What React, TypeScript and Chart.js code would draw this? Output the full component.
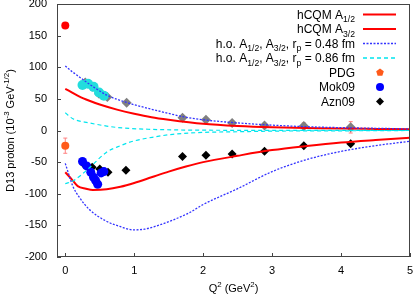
import React, { useEffect, useRef } from "react";
import { Chart, registerables } from "chart.js";
Chart.register(...registerables);

const FONT = '"Liberation Sans", Arial, Helvetica, sans-serif';

// ---- data ----
const xTicks = [0, 1, 2, 3, 4, 5];
const yTicks = [-200, -150, -100, -50, 0, 50, 100, 150, 200];

const hcqmA32X = [0, 0.1, 0.2, 0.35, 0.5, 0.75, 1.0, 1.25, 1.5, 2.0, 2.5, 3.0, 3.5, 4.0, 4.5, 5.0];
const hcqmA32Y = [66, 60, 54, 47, 41, 33, 26.5, 21, 17, 10.5, 7, 5, 4, 3, 2.5, 2];
const hcqmA12X = [0, 0.1, 0.18, 0.3, 0.4, 0.6, 0.8, 1.0, 1.25, 1.5, 1.75, 2.0, 2.5, 3.0, 3.5, 4.0, 4.5, 5.0];
const hcqmA12Y = [-66, -78, -88, -92, -94, -93, -89, -83, -74, -65, -57, -50, -40, -31, -24.5, -19, -15, -11.5];

const ho48PosX = [0, 0.1, 0.2, 0.3, 0.45, 0.6, 0.9, 1.2, 1.5, 1.7, 2.0, 2.5, 3.0, 3.5, 4.0, 4.5, 5.0];
const ho48PosY = [102, 93, 85, 77, 66, 56, 44, 35, 27, 22, 17, 12, 8.5, 6, 4.5, 3.5, 2.5];
const ho48NegX = [0, 0.11, 0.2, 0.35, 0.59, 0.8, 0.98, 1.15, 1.32, 1.55, 1.8, 2.0, 2.5, 3.0, 3.5, 4.0, 4.5, 5.0];
const ho48NegY = [-52, -88, -105, -125, -143, -152, -157, -156, -151, -142, -130, -117, -92, -65, -46, -33, -24, -17];

const ho86PosX = [0, 0.11, 0.35, 0.6, 0.83, 1.2, 1.56, 2.0, 3.0, 5.0];
const ho86PosY = [28, 18.5, 12, 7, 4, 2, 1, 0.5, 0.2, 0];
const ho86NegX = [0, 0.11, 0.2, 0.35, 0.59, 0.8, 0.98, 1.3, 1.56, 2.0, 2.5, 3.0, 4.0, 5.0];
const ho86NegY = [-84, -80, -73, -59, -35, -24, -17, -10, -6, -3, -2, -1, -0.5, 0];

const pdgX = [0, 0];
const pdgY = [166, -24];
const pdgErr = [3, 12];

const mokA32X = [0.25, 0.33, 0.41, 0.49, 0.56];
const mokA32Y = [72, 74, 69, 60, 55];
const mokA12X = [0.25, 0.31, 0.37, 0.41, 0.44, 0.47, 0.52, 0.56];
const mokA12Y = [-49, -56, -66, -74, -79, -85, -67, -65];

const aznA32X = [0.29, 0.39, 0.49, 0.61, 0.89, 1.7, 2.04, 2.42, 2.89, 3.46, 4.14];
const aznA32Y = [76, 69, 58, 53, 44, 20, 17, 12, 8, 7, 5];
const aznA32Err = [2, 2, 2, 2, 2, 2, 2, 2, 3, 5, 9];
const aznA12X = [0.28, 0.39, 0.5, 0.62, 0.88, 1.7, 2.04, 2.42, 2.89, 3.46, 4.14];
const aznA12Y = [-54, -58, -61, -66, -63, -41, -39, -37, -33, -24, -21];

const zip = (xs: number[], ys: number[]) => xs.map((x, i) => ({ x, y: ys[i] }));

type Seg = [string, number]; // 0 normal, 1 sup, -1 sub

function setFont(ctx: CanvasRenderingContext2D, size: number) {
  ctx.font = `${size}px ${FONT}`;
}
function richWidth(ctx: CanvasRenderingContext2D, segs: Seg[], size: number) {
  let w = 0;
  for (const [t, k] of segs) {
    setFont(ctx, k === 0 ? size : size * 0.72);
    w += ctx.measureText(t).width;
  }
  return w;
}
function drawRich(ctx: CanvasRenderingContext2D, segs: Seg[], x: number, y: number, size: number, align: "left" | "right" | "center") {
  const w = richWidth(ctx, segs, size);
  let cx = align === "left" ? x : align === "right" ? x - w : x - w / 2;
  ctx.textAlign = "left";
  ctx.textBaseline = "alphabetic";
  for (const [t, k] of segs) {
    const s = k === 0 ? size : size * 0.72;
    setFont(ctx, s);
    const dy = k === 1 ? -size * 0.42 : k === -1 ? size * 0.3 : 0;
    ctx.fillText(t, cx, y + dy);
    cx += ctx.measureText(t).width;
  }
}

const RED = "#ff0000";
const BLUE_DOT = "#3333ff";
const CYAN = "#00e5ee";

const legendItems: { segs: Seg[]; kind: string; color: string; dash?: number[] }[] = [
  { segs: [["hCQM A", 0], ["1/2", -1]], kind: "line", color: RED },
  { segs: [["hCQM A", 0], ["3/2", -1]], kind: "line", color: RED },
  { segs: [["h.o. A", 0], ["1/2", -1], [", A", 0], ["3/2", -1], [", r", 0], ["p", -1], [" = 0.48 fm", 0]], kind: "line", color: BLUE_DOT, dash: [2, 1.5] },
  { segs: [["h.o. A", 0], ["1/2", -1], [", A", 0], ["3/2", -1], [", r", 0], ["p", -1], [" = 0.86 fm", 0]], kind: "line", color: CYAN, dash: [4, 3] },
  { segs: [["PDG", 0]], kind: "pdg", color: "#ff5a1a" },
  { segs: [["Mok09", 0]], kind: "circle", color: "#0000ff" },
  { segs: [["Azn09", 0]], kind: "diamond", color: "#000000" },
];

const decorPlugin = {
  id: "decor",
  beforeDatasetsDraw(chart: any) {
    const ctx = chart.ctx as CanvasRenderingContext2D;
    const xs = chart.scales.x, ys = chart.scales.y;
    ctx.save();
    ctx.strokeStyle = "#ff8080";
    ctx.lineWidth = 1;
    const bars = (X: number[], Y: number[], E: number[]) => {
      X.forEach((x, i) => {
        const px = xs.getPixelForValue(x);
        const y1 = ys.getPixelForValue(Y[i] + E[i]);
        const y2 = ys.getPixelForValue(Y[i] - E[i]);
        ctx.beginPath();
        ctx.moveTo(px, y1); ctx.lineTo(px, y2);
        ctx.moveTo(px - 2, y1); ctx.lineTo(px + 2, y1);
        ctx.moveTo(px - 2, y2); ctx.lineTo(px + 2, y2);
        ctx.stroke();
      });
    };
    bars(pdgX, pdgY, pdgErr);
    bars(aznA32X, aznA32Y, aznA32Err);
    ctx.restore();
  },
  afterDraw(chart: any) {
    const ctx = chart.ctx as CanvasRenderingContext2D;
    const a = chart.chartArea;
    const xs = chart.scales.x, ys = chart.scales.y;
    ctx.save();
    // frame
    ctx.strokeStyle = "#444444";
    ctx.lineWidth = 1;
    ctx.strokeRect(Math.round(a.left) + 0.5, Math.round(a.top) + 0.5, Math.round(a.right - a.left) - 1, Math.round(a.bottom - a.top) - 1);
    // inward ticks
    ctx.beginPath();
    xTicks.forEach((v) => {
      const px = Math.round(xs.getPixelForValue(v)) + 0.5;
      ctx.moveTo(px, a.bottom); ctx.lineTo(px, a.bottom - 4);
    });
    yTicks.forEach((v) => {
      const py = Math.round(ys.getPixelForValue(v)) + 0.5;
      ctx.moveTo(a.left, py); ctx.lineTo(a.left + 4, py);
    });
    ctx.stroke();

    // axis titles
    ctx.fillStyle = "#000000";
    drawRich(ctx, [["Q", 0], ["2", 1], [" (GeV", 0], ["2", 1], [")", 0]], (a.left + a.right) / 2, 292, 11, "center");
    ctx.save();
    ctx.translate(14, (a.top + a.bottom) / 2);
    ctx.rotate(-Math.PI / 2);
    drawRich(ctx, [["D13 proton (10", 0], ["-3", 1], [" GeV", 0], ["-1/2", 1], [")", 0]], 0, 0, 11, "center");
    ctx.restore();

    // legend
    const rowY = [14.5, 29, 43.5, 58, 72.5, 87, 101.5];
    legendItems.forEach((it, i) => {
      const y = rowY[i];
      ctx.fillStyle = "#000000";
      drawRich(ctx, it.segs, 355, y + 4, 12, "right");
      if (it.kind === "line") {
        ctx.strokeStyle = it.color;
        ctx.lineWidth = it.dash ? 1.3 : 2;
        ctx.setLineDash(it.dash || []);
        ctx.beginPath();
        ctx.moveTo(363, y); ctx.lineTo(396, y);
        ctx.stroke();
        ctx.setLineDash([]);
      } else if (it.kind === "pdg") {
        ctx.fillStyle = it.color;
        ctx.beginPath();
        for (let k = 0; k < 5; k++) {
          const ang = -Math.PI / 2 + (k * 2 * Math.PI) / 5;
          const px = 380 + 4 * Math.cos(ang), py = y + 4 * Math.sin(ang);
          if (k === 0) ctx.moveTo(px, py); else ctx.lineTo(px, py);
        }
        ctx.closePath();
        ctx.fill();
      } else if (it.kind === "circle") {
        ctx.fillStyle = it.color;
        ctx.beginPath();
        ctx.arc(380, y, 4, 0, Math.PI * 2);
        ctx.fill();
      } else {
        ctx.fillStyle = it.color;
        ctx.beginPath();
        ctx.moveTo(380, y - 4); ctx.lineTo(384, y); ctx.lineTo(380, y + 4); ctx.lineTo(376, y);
        ctx.closePath();
        ctx.fill();
      }
    });
    ctx.restore();
  },
};

const curve = (xs: number[], ys: number[], color: string, width: number, dash: number[]) => ({
  type: "line" as const,
  data: zip(xs, ys),
  borderColor: color,
  borderWidth: width,
  borderDash: dash,
  pointRadius: 0,
  showLine: true,
  fill: false,
  cubicInterpolationMode: "monotone" as const,
});

const pts = (xs: number[], ys: number[], color: string | string[], style: string, r: number) => ({
  type: "scatter" as const,
  data: zip(xs, ys),
  backgroundColor: color,
  borderColor: color,
  pointBackgroundColor: color,
  pointBorderColor: color,
  pointStyle: style,
  pointRadius: r,
  borderWidth: 0,
  showLine: false,
});

export default function App() {
  const ref = useRef<HTMLCanvasElement>(null);
  useEffect(() => {
    document.body.style.margin = "0";
    const chart = new Chart(ref.current!, {
      type: "scatter",
      data: {
        datasets: [
          curve(ho86PosX, ho86PosY, CYAN, 1.2, [4, 3]),
          curve(ho86NegX, ho86NegY, CYAN, 1.2, [4, 3]),
          curve(ho48PosX, ho48PosY, BLUE_DOT, 1.3, [2, 1.5]),
          curve(ho48NegX, ho48NegY, BLUE_DOT, 1.3, [2, 1.5]),
          curve(hcqmA32X, hcqmA32Y, RED, 2, []),
          curve(hcqmA12X, hcqmA12Y, RED, 2, []),
          pts(mokA32X, mokA32Y, "#22dddd", "circle", 5),
          pts(mokA12X, mokA12Y, "#0000ff", "circle", 4.5),
          pts(aznA32X, aznA32Y, "#808080", "rectRot", 5),
          pts(aznA12X, aznA12Y, "#000000", "rectRot", 4.5),
          pts(pdgX, pdgY, ["#ff0000", "#ff5a1a"], "circle", 4),
        ] as any,
      },
      options: {
        responsive: false,
        animation: false,
        events: [],
        layout: { autoPadding: false, padding: { top: 4, right: 5, left: 0, bottom: 0 } },
        plugins: { legend: { display: false }, tooltip: { enabled: false }, title: { display: false } },
        scales: {
          x: {
            type: "linear",
            min: -0.12,
            max: 5,
            afterBuildTicks: (s: any) => { s.ticks = xTicks.map((v) => ({ value: v })); },
            afterFit: (s: any) => { s.height = 39; s.paddingLeft = 0; s.paddingRight = 0; s.paddingTop = 0; s.paddingBottom = 0; },
            grid: { display: false, drawTicks: false },
            border: { display: false },
            ticks: { color: "#000", font: { family: FONT, size: 11 }, padding: 7, maxRotation: 0 },
          },
          y: {
            type: "linear",
            min: -200,
            max: 200,
            afterBuildTicks: (s: any) => { s.ticks = yTicks.map((v) => ({ value: v })); },
            afterFit: (s: any) => { s.width = 57; s.paddingLeft = 0; s.paddingRight = 0; s.paddingTop = 0; s.paddingBottom = 0; },
            grid: { display: false, drawTicks: false },
            border: { display: false },
            ticks: { color: "#000", font: { family: FONT, size: 11 }, padding: 10 },
          },
        },
      },
      plugins: [decorPlugin],
    } as any);
    return () => chart.destroy();
  }, []);
  return (
    <div style={{ width: 415, height: 296 }}>
      <canvas ref={ref} width={415} height={296} style={{ display: "block" }} />
    </div>
  );
}
